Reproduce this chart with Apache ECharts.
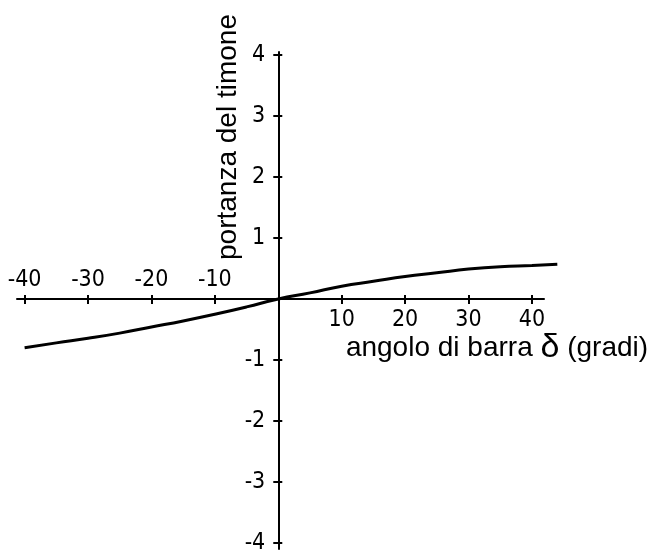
<!DOCTYPE html>
<html>
<head>
<meta charset="utf-8">
<script src="https://cdn.jsdelivr.net/npm/echarts@6/dist/echarts.min.js"></script>
<style>
  html, body { margin: 0; padding: 0; background: #ffffff; }
  #chart { width: 654px; height: 550px; }
</style>
</head>
<body>
<div id="chart"></div>
<script>
// Rudder angle (degrees) and rudder lift
var angles = [-40, -35, -30, -25, -20, -15, -10, -5, 0, 5, 10, 15, 20, 25, 30, 35, 40, 44];
var lift   = [-0.80, -0.72, -0.645, -0.56, -0.46, -0.36, -0.25, -0.13, 0, 0.10, 0.21, 0.29, 0.37, 0.43, 0.49, 0.53, 0.55, 0.57];

var xTicks = [-40, -30, -20, -10, 0, 10, 20, 30, 40];
var xLabelsBelow = [10, 20, 30, 40];
var xLabelsAbove = [-40, -30, -20, -10];
var yTicks = [-4, -3, -2, -1, 0, 1, 2, 3, 4];
var yLabels = [-4, -3, -2, -1, 1, 2, 3, 4];

var xTitle = 'angolo di barra {d|δ} (gradi)';
var yTitle = 'portanza del timone';

var labelFont = "'Liberation Sans Narrow', 'DejaVu Sans Condensed', 'Liberation Sans', sans-serif";
var titleFont = "'Liberation Sans', Arial, sans-serif";

var W = 654, H = 550;
var gridLeft = 17, gridRight = 110, gridTop = 52, gridBottom = 1;
var xMin = -41.2, xMax = 41.9, yMin = -4.1, yMax = 4.05;
var curveXMax = 44.5; // the drawn curve runs a little past the end of the axis line
var plotW = W - gridLeft - gridRight;
var plotH = H - gridTop - gridBottom;
// second grid with the same scale but wider extent, so the curve is not clipped
var plotW2 = plotW * (curveXMax - xMin) / (xMax - xMin);
var gridRight2 = W - gridLeft - plotW2;
// move axes onto the zero lines (inward offsets)
var xAxisOffset = -plotH * (0 - yMin) / (yMax - yMin);
var yAxisOffset = -plotW * (0 - xMin) / (xMax - xMin);

var chart = echarts.init(document.getElementById('chart'), null, { renderer: 'canvas' });

var points = angles.map(function (a, i) { return [a, lift[i]]; });

var tickStyle = { color: '#000', width: 2 };
var hidden = { show: false };

chart.setOption({
  animation: false,
  backgroundColor: '#ffffff',
  grid: [
    { left: gridLeft, right: gridRight, top: gridTop, bottom: gridBottom, outerBoundsMode: 'none', containLabel: false },
    { left: gridLeft, right: gridRight2, top: gridTop, bottom: gridBottom, outerBoundsMode: 'none', containLabel: false }
  ],
  xAxis: [
    {
      gridIndex: 0, type: 'value', min: xMin, max: xMax, position: 'bottom', offset: xAxisOffset,
      splitLine: hidden,
      axisLine: { show: true, onZero: false, lineStyle: { color: '#000', width: 2 } },
      axisTick: { show: true, inside: false, length: 5, customValues: xTicks, lineStyle: tickStyle },
      axisLabel: { show: true, customValues: xLabelsBelow, margin: 10, color: '#000', fontSize: 23, fontFamily: labelFont }
    },
    {
      gridIndex: 0, type: 'value', min: xMin, max: xMax, position: 'bottom', offset: xAxisOffset,
      splitLine: hidden,
      axisLine: { show: false, onZero: false },
      axisTick: { show: true, inside: true, length: 4, customValues: xTicks, lineStyle: tickStyle },
      axisLabel: { show: true, inside: true, customValues: xLabelsAbove, margin: 7, color: '#000', fontSize: 23, fontFamily: labelFont }
    },
    {
      gridIndex: 1, type: 'value', min: xMin, max: curveXMax, show: false,
      splitLine: hidden, axisLine: hidden, axisTick: hidden, axisLabel: hidden
    }
  ],
  yAxis: [
    {
      gridIndex: 0, type: 'value', min: yMin, max: yMax, position: 'left', offset: yAxisOffset,
      splitLine: hidden,
      axisLine: { show: true, onZero: false, lineStyle: { color: '#000', width: 2 } },
      axisTick: { show: true, inside: false, length: 5, customValues: yTicks, lineStyle: tickStyle },
      axisLabel: { show: true, customValues: yLabels, margin: 13, color: '#000', fontSize: 23, fontFamily: labelFont }
    },
    {
      gridIndex: 0, type: 'value', min: yMin, max: yMax, position: 'left', offset: yAxisOffset,
      splitLine: hidden,
      axisLine: { show: false, onZero: false },
      axisTick: { show: true, inside: true, length: 4, customValues: yTicks, lineStyle: tickStyle },
      axisLabel: hidden
    },
    {
      gridIndex: 1, type: 'value', min: yMin, max: yMax, show: false,
      splitLine: hidden, axisLine: hidden, axisTick: hidden, axisLabel: hidden
    }
  ],
  graphic: [
    {
      type: 'text', x: 228, y: 137, rotation: Math.PI / 2,
      style: { text: yTitle, font: '28px ' + titleFont, fill: '#000', align: 'center', verticalAlign: 'middle' }
    },
    {
      type: 'text', x: 497, y: 348,
      style: {
        text: xTitle, font: '28px ' + titleFont, fill: '#000', align: 'center', verticalAlign: 'middle',
        rich: { d: { fontSize: 34, fontFamily: titleFont, fill: '#000' } }
      }
    }
  ],
  series: [
    {
      type: 'line',
      xAxisIndex: 2, yAxisIndex: 2,
      data: points,
      smooth: true,
      clip: false,
      showSymbol: false,
      symbol: 'none',
      lineStyle: { color: '#000', width: 3 }
    }
  ]
});
</script>
</body>
</html>
